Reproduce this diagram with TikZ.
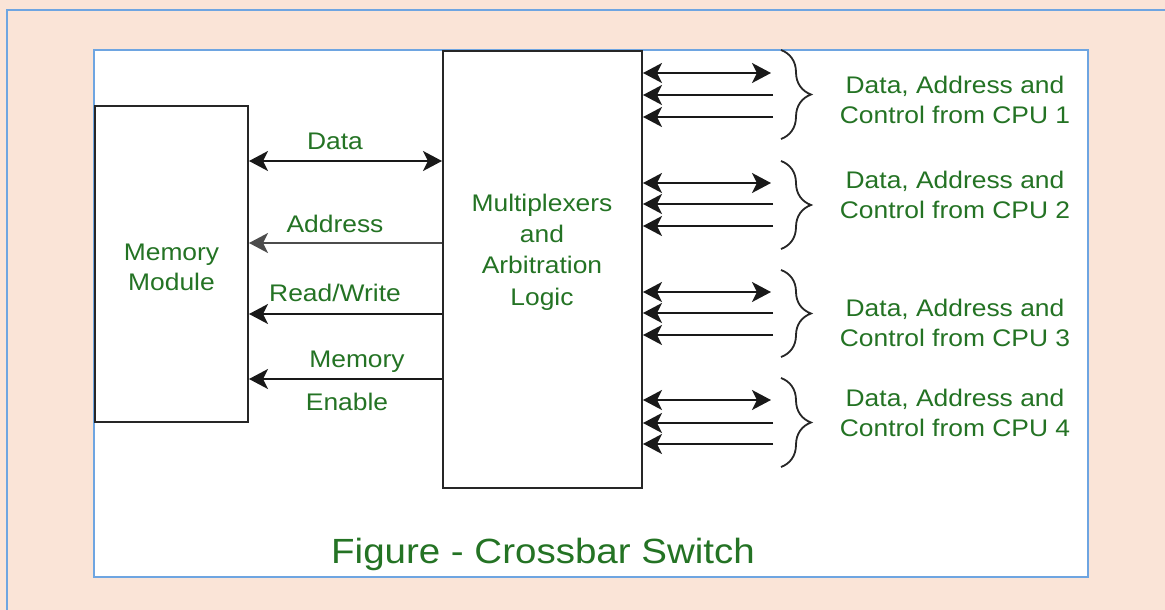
\documentclass[tikz,border=0pt]{standalone}
\usepackage{fontspec}
\setmainfont[FakeStretch=1.1]{Liberation Sans}
\usetikzlibrary{arrows.meta,decorations.pathreplacing}

\definecolor{peach}{RGB}{250,228,215}
\definecolor{frameblue}{RGB}{110,165,225}
\definecolor{labelgreen}{RGB}{36,115,36}

\tikzset{bigtip/.tip={Stealth[length=19pt,width=20pt,inset=5pt]}}

\begin{document}
\begin{tikzpicture}[x=1pt,y=-1pt,
  block/.style={draw=black!85,line width=2pt,fill=white,inner sep=0pt},
  lbl/.style={text=labelgreen,font=\fontsize{24}{30}\selectfont,inner sep=0pt,align=center},
  bus/.style={line width=2pt,black!90},
  curly/.style={decorate,decoration={brace,amplitude=30pt},line width=1.8pt,black!85}
]
% page background and panel
\useasboundingbox (0,0) rectangle (1165,610);
\fill[peach] (0,0) rectangle (1165,610);
\draw[frameblue,line width=1.5pt] (7,640) -- (7,10) -- (1190,10);
\draw[frameblue,line width=1.5pt,fill=white] (94,50) rectangle (1088,577);

% blocks
\node[block,minimum width=153pt,minimum height=316pt] (mem) at (171.5,264) {};
\node[lbl] (memtext) at (171.5,267) {Memory\\Module};
\node[block,minimum width=199pt,minimum height=437pt] (mux) at (542.5,269.5) {};
\node[lbl,font=\fontsize{24}{31.3}\selectfont] (muxtext) at (542,252) {Multiplexers\\and\\Arbitration\\Logic};

% memory side buses
\coordinate (yd) at (0,161);
\coordinate (ya) at (0,243);
\coordinate (yr) at (0,314);
\coordinate (ye) at (0,379);
\draw[bus,bigtip-bigtip] (mem.east |- yd) -- (mux.west |- yd);
\draw[bus,-bigtip,black!70] (mux.west |- ya) -- (mem.east |- ya);
\draw[bus,-bigtip] (mux.west |- yr) -- (mem.east |- yr);
\draw[bus,-bigtip] (mux.west |- ye) -- (mem.east |- ye);

\node[lbl,anchor=base] (ldata) at (335,149) {Data};
\node[lbl,anchor=base] (laddr) at (335,232) {Address};
\node[lbl,anchor=base] (lrw) at (335,301) {Read/Write};
\node[lbl,anchor=base] (lmem) at (357,367) {Memory};
\node[lbl,anchor=base] (len) at (347,410) {Enable};

% CPU side buses, three lines per CPU
\foreach \i/\ya/\yb/\yc/\bt/\bb/\ty in {1/73/95/117/50/139/100,
                                       2/183/204/226/161/249/195,
                                       3/292/313/335/270/357/323,
                                       4/400/423/444/378/467/413}{
  \coordinate (d\i) at (771,\ya);
  \coordinate (a\i) at (773,\yb);
  \coordinate (c\i) at (773,\yc);
  \draw[bus,bigtip-bigtip] (mux.east |- d\i) -- (d\i);
  \draw[bus,-bigtip] (a\i) -- (mux.east |- a\i);
  \draw[bus,-bigtip] (c\i) -- (mux.east |- c\i);
  \draw[curly] (781,\bt) -- (781,\bb);
  \node[lbl] (cpu\i) at (955,\ty) {Data, Address and\\Control from CPU \i};
}

% caption
\node[text=labelgreen,font=\fontsize{35}{40}\selectfont,inner sep=0pt,anchor=base]
  (caption) at (543,563) {Figure - Crossbar Switch};
\end{tikzpicture}
\end{document}
